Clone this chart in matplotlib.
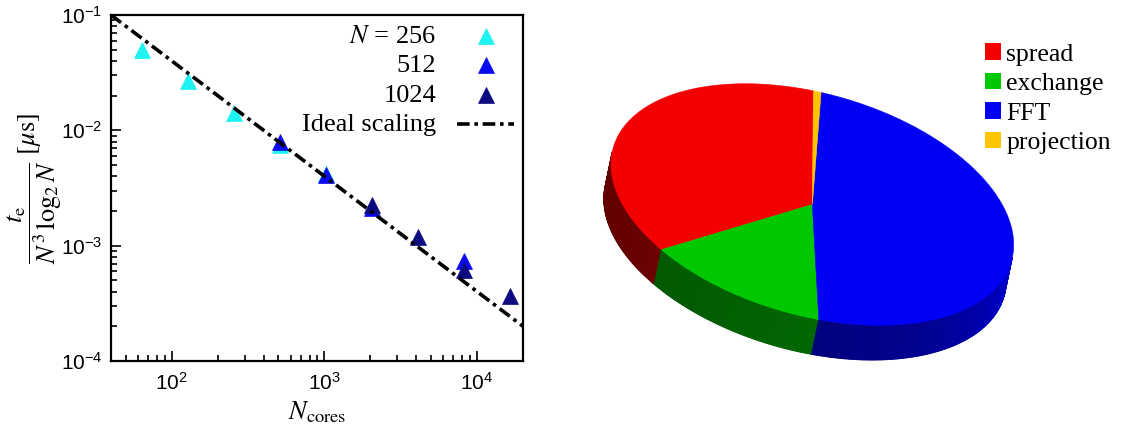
import numpy as np
import matplotlib
matplotlib.use('Agg')
import matplotlib.pyplot as plt
from matplotlib.patches import Polygon, Patch
from matplotlib.collections import PolyCollection

plt.rcParams['font.family'] = ['Liberation Serif', 'DejaVu Serif']
plt.rcParams['mathtext.fontset'] = 'stix'
plt.rcParams['axes.unicode_minus'] = False

# normalized time per step vs. number of cores, one run series per grid size
cores_256 = [64, 128, 256, 512, 1024]
time_256 = [0.050, 0.0267, 0.0142, 0.0074, 0.0042]
cores_512 = [512, 1024, 2048, 8192]
time_512 = [0.0080, 0.0041, 0.00212, 0.00073]
cores_1024 = [2048, 4096, 8192, 16384]
time_1024 = [0.00225, 0.00118, 0.00062, 0.000365]
ideal_cores = [40, 20000]
ideal_time = [0.1, 0.0002]

series_labels = ['$N$ = 256', '512', '1024']
series_colors = ['#1ff2f2', '#0a0af0', '#0c0c80']

# share of runtime spent in each stage
stages = ['spread', 'exchange', 'FFT', 'projection']
shares = [36.6, 14.0, 48.8, 0.6]
stage_colors = ['#f50000', '#00c800', '#0000f5', '#ffc400']

W, H = 1122, 432
fig = plt.figure(figsize=(W / 100, H / 100), dpi=100)

# ---------------------------------------------------------------- scaling
ax = fig.add_axes([111 / W, 1 - 361 / H, 412 / W, 346 / H])
runs = [(cores_256, time_256), (cores_512, time_512), (cores_1024, time_1024)]
for (c, t), col in zip(runs, series_colors):
    ax.plot(c, t, '^', color=col, ms=11, mec=col, mew=0.5, ls='none', zorder=3)
ideal_ls = (0, (3.5, 1.3, 1.0, 1.3))
ax.plot(ideal_cores, ideal_time, color='black', lw=2.6, ls=ideal_ls, zorder=4)

ax.set_xscale('log')
ax.set_yscale('log')
ax.set_xlim(40, 20000)
ax.set_ylim(1e-4, 1e-1)
for s in ax.spines.values():
    s.set_linewidth(1.6)
ax.tick_params(which='both', direction='in', top=False, right=False,
               labelsize=15, labelfontfamily='Liberation Sans', width=1.2)
ax.tick_params(which='major', length=7)
ax.tick_params(which='minor', length=4)
ax.tick_params(axis='x', pad=8)
ax.tick_params(axis='y', pad=6)

ax.set_xlabel(r'$N_\mathrm{cores}$', fontsize=19, labelpad=4)
ax.set_ylabel(r'$\dfrac{t_\mathrm{e}}{N^3\,\log_2 N}\ \left[\mu\mathrm{s}\right]$',
              fontsize=19)
ax.yaxis.set_label_coords(-0.115, 0.5)

# key: right-aligned labels with the symbol to their right
key_rows = [0.938, 0.855, 0.768, 0.684]
key_labels = series_labels + ['Ideal scaling']
for k, (lab, yk) in enumerate(zip(key_labels, key_rows)):
    ax.text(0.789, yk - 0.02, lab, transform=ax.transAxes, ha='right',
            va='baseline', fontsize=19)
    if k < len(series_colors):
        ax.plot([0.910], [yk], '^', color=series_colors[k], ms=11,
                mec=series_colors[k], mew=0.5, transform=ax.transAxes)
    else:
        ax.plot([0.840, 0.978], [yk, yk], color='black', lw=2.6, ls=ideal_ls,
                transform=ax.transAxes)

# ---------------------------------------------------------------- 3D pie
pax = fig.add_axes([560 / W, 0, 562 / W, 1])
pax.set_xlim(-1.219, 1.496)
pax.set_ylim(-1.099, 0.988)
pax.axis('off')

tilt = np.deg2rad(-16)
flat = 0.535
u = np.array([np.cos(tilt), np.sin(tilt)])
v = flat * np.array([-np.sin(tilt), np.cos(tilt)])
depth = np.array([-0.035, -0.168])
start = 98.4


def rim(th):
    th = np.deg2rad(th)
    return np.outer(np.cos(th), u) + np.outer(np.sin(th), v)


def rim_normal(th):
    th = np.deg2rad(th)
    tang = np.outer(-np.sin(th), u) + np.outer(np.cos(th), v)
    n = np.column_stack([tang[:, 1], -tang[:, 0]])
    return n / np.linalg.norm(n, axis=1)[:, None]


bounds = start + 360 * np.concatenate([[0], np.cumsum(shares)]) / np.sum(shares)

# side walls first, lit from the right
quads, fcols = [], []
for i, col in enumerate(stage_colors):
    th = np.linspace(bounds[i], bounds[i + 1], max(int(bounds[i + 1] - bounds[i]) * 2, 2))
    pts = rim(th)
    mid = 0.5 * (th[:-1] + th[1:])
    nrm = rim_normal(mid)
    base = np.array(matplotlib.colors.to_rgb(col))
    for k in range(len(mid)):
        if nrm[k] @ depth <= 0:
            continue
        nx = nrm[k, 0]
        f = 0.55 + 0.22 * nx + 0.07 * nx ** 2
        quads.append([pts[k], pts[k + 1], pts[k + 1] + depth, pts[k] + depth])
        fcols.append(np.clip(base * f, 0, 1))
pax.add_collection(PolyCollection(quads, facecolors=fcols, edgecolors=fcols,
                                  linewidths=0.6, zorder=1))

# top faces
for i, col in enumerate(stage_colors):
    th = np.linspace(bounds[i], bounds[i + 1], max(int(bounds[i + 1] - bounds[i]) * 2, 2))
    pts = np.vstack([[0, 0], rim(th)])
    pax.add_patch(Polygon(pts, closed=True, facecolor=col, edgecolor=col,
                          lw=0.4, zorder=2))

pax.legend([Patch(facecolor=c, edgecolor='none') for c in stage_colors], stages,
           loc='upper left', bbox_to_anchor=(980 / W, 1 - 38 / H),
           bbox_transform=fig.transFigure, frameon=False, fontsize=18.5,
           handlelength=0.62, handleheight=0.62, handletextpad=0.2,
           labelspacing=0.28, borderpad=0.2, borderaxespad=0)

fig.savefig('out.png', dpi=100)
